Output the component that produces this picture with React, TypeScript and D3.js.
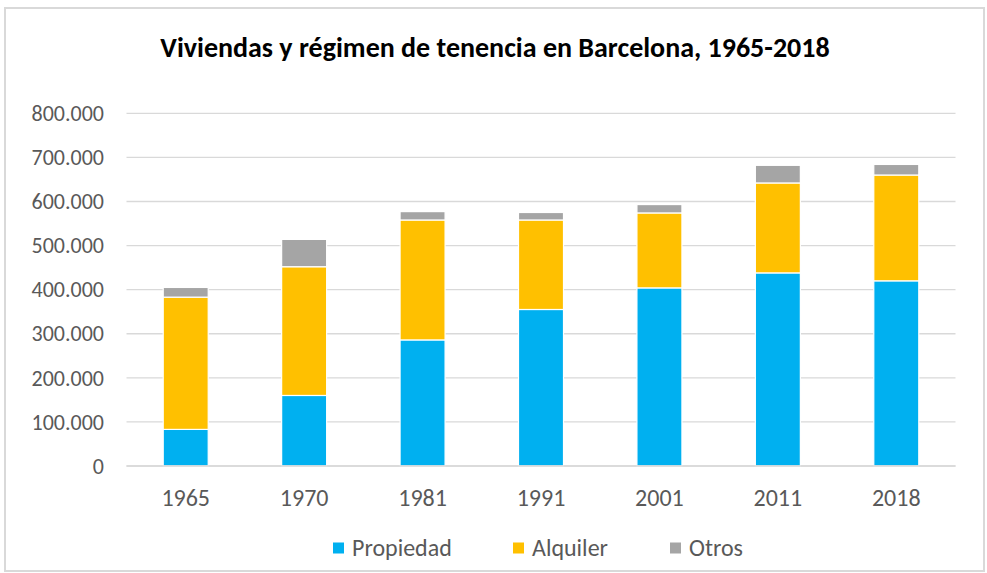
import { useMemo } from "react";
import { scaleBand, scaleLinear, stack, formatLocale } from "d3";

// data (dwellings)
const years = ["1965", "1970", "1981", "1991", "2001", "2011", "2018"];
const propiedad = [83000, 160000, 286000, 355000, 404000, 438000, 420000];
const alquiler = [300000, 292000, 272000, 203000, 170000, 204000, 240000];
const otros = [22000, 62000, 19000, 17000, 19000, 40000, 24000];
const seriesNames = ["Propiedad", "Alquiler", "Otros"];
const seriesColors = ["#00B0F0", "#FFC000", "#A5A5A5"];
const yTicks = [0, 100000, 200000, 300000, 400000, 500000, 600000, 700000, 800000];

const W = 987;
const H = 573;
const FONT = "Carlito, 'Open Sans', sans-serif";

const es = formatLocale({ decimal: ",", thousands: ".", grouping: [3], currency: ["", "€"] });
const fmt = es.format(",d");

export default function App() {
  const rows = useMemo(
    () =>
      years.map((y, i) => ({
        year: y,
        Propiedad: propiedad[i],
        Alquiler: alquiler[i],
        Otros: otros[i],
      })),
    []
  );
  const stacked = stack<any>().keys(seriesNames)(rows);

  // scales
  const x = scaleBand<string>()
    .domain(years)
    .range([126.5, 955.5])
    .paddingInner(0.62)
    .paddingOuter(0.31);
  const y = scaleLinear().domain([0, 800000]).range([466, 113.3]);

  const legendX = [333, 513, 670];

  return (
    <svg
      width={W}
      height={H}
      style={{ position: "absolute", left: 0, top: 0, display: "block" }}
      fontFamily={FONT}
    >
      <rect x={0} y={0} width={W} height={H} fill="#fff" />
      <rect x={5} y={8} width={979} height={563} fill="none" stroke="#d9d9d9" strokeWidth={2} />

      {/* title */}
      <text x={495} y={57} textAnchor="middle" fontSize={28} fontWeight="bold" fill="#000">
        Viviendas y régimen de tenencia en Barcelona, 1965-2018
      </text>

      {/* gridlines + y labels */}
      {yTicks.map((t) => (
        <g key={t}>
          <line x1={126.5} x2={955.5} y1={y(t)} y2={y(t)} stroke="#d9d9d9" strokeWidth={1.3} />
          <text
            x={104}
            y={y(t)}
            dy="0.35em"
            textAnchor="end"
            fontSize={22}
            fill="#595959"
          >
            {fmt(t)}
          </text>
        </g>
      ))}

      {/* bars */}
      {stacked.map((s, si) => (
        <g key={s.key} fill={seriesColors[si]}>
          {s.map((d: any, i: number) => (
            <rect
              key={years[i]}
              x={x(years[i])}
              width={x.bandwidth()}
              y={y(d[1])}
              height={y(d[0]) - y(d[1])}
              stroke="#fff"
              strokeWidth={1.2}
            />
          ))}
        </g>
      ))}

      {/* baseline */}
      <line x1={126.5} x2={955.5} y1={y(0)} y2={y(0)} stroke="#d9d9d9" strokeWidth={1.3} />

      {/* x labels */}
      {years.map((yr) => (
        <text
          key={yr}
          x={(x(yr) ?? 0) + x.bandwidth() / 2}
          y={498}
          dy="0.35em"
          textAnchor="middle"
          fontSize={24}
          fill="#595959"
        >
          {yr}
        </text>
      ))}

      {/* legend */}
      {seriesNames.map((name, i) => (
        <g key={name} transform={`translate(${legendX[i]},548)`}>
          <rect x={0} y={-5.5} width={11} height={11} fill={seriesColors[i]} />
          <text x={19} y={0} dy="0.35em" fontSize={24} fill="#595959">
            {name}
          </text>
        </g>
      ))}
    </svg>
  );
}
